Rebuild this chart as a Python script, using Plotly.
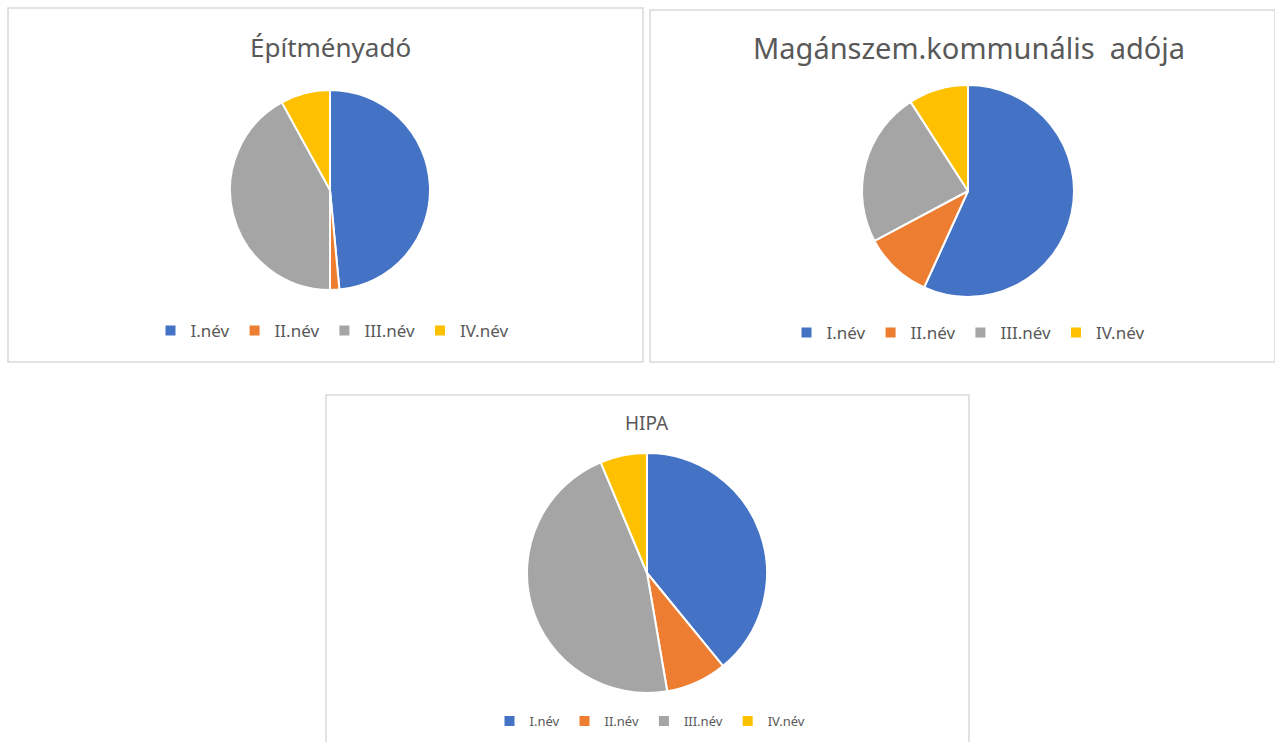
import plotly.graph_objects as go

W, H = 1275, 742

labels = ["I.név", "II.név", "III.név", "IV.név"]
colors = ["#4472C4", "#ED7D31", "#A5A5A5", "#FFC000"]

titles = ["Építményadó", "Magánszem.kommunális  adója", "HIPA"]
epitmenyado = [48.5, 1.5, 42.0, 8.0]
kommunalis = [56.8, 10.4, 23.7, 9.1]
hipa = [39.1, 8.2, 46.4, 6.3]

fig = go.Figure()

def px_dom(cx, cy, r):
    return dict(x=[(cx - r) / W, (cx + r) / W], y=[(H - (cy + r)) / H, (H - (cy - r)) / H])

pies = [
    (epitmenyado, px_dom(330, 190, 100), "legend", ""),
    (kommunalis, px_dom(968, 191, 106), "legend2", "\u200b"),
    (hipa, px_dom(647, 573, 120), "legend3", "\u200b\u200b"),
]
for vals, dom, leg, suffix in pies:
    fig.add_trace(go.Pie(
        labels=[l + suffix for l in labels], values=vals, sort=False,
        direction="clockwise", rotation=0,
        marker=dict(colors=colors, line=dict(color="white", width=2)),
        textinfo="none", hoverinfo="label+percent", domain=dom, legend=leg,
    ))

boxes = [(8, 8, 643, 362), (650, 10, 1275, 362), (326, 395, 969, 745)]
shapes = []
for x0, y0, x1, y1 in boxes:
    shapes.append(dict(type="rect", xref="paper", yref="paper",
                       x0=x0 / W, x1=x1 / W, y0=(H - y1) / H, y1=(H - y0) / H,
                       line=dict(color="#D9D9D9", width=1.5), fillcolor="rgba(0,0,0,0)"))

font = "Noto Sans"
annotations = [
    dict(text=titles[0], x=330 / W, y=(H - 47) / H, font=dict(size=26, color="#595959", family=font)),
    dict(text=titles[1], x=969 / W, y=(H - 47) / H, font=dict(size=29, color="#595959", family=font)),
    dict(text=titles[2], x=647 / W, y=(H - 423) / H, font=dict(size=19, color="#595959", family=font)),
]
for a in annotations:
    a.update(xref="paper", yref="paper", showarrow=False, xanchor="center", yanchor="middle")

def leg(cx, cy, size):
    return dict(orientation="h", x=cx / W, y=(H - cy) / H, xanchor="center", yanchor="middle",
                font=dict(size=size, color="#595959", family=font), itemwidth=30,
                bgcolor="rgba(0,0,0,0)", traceorder="normal")

fig.update_layout(
    width=W, height=H, margin=dict(l=0, r=0, t=0, b=0),
    paper_bgcolor="white", plot_bgcolor="white",
    shapes=shapes, annotations=annotations,
    legend=leg(332, 331, 17), legend2=leg(968, 333, 17), legend3=leg(650, 721, 13),
    showlegend=True,
)

fig.write_html("out.html", config={"displayModeBar": False},
               post_script="document.body.style.margin='0';document.body.style.overflow='hidden';")
